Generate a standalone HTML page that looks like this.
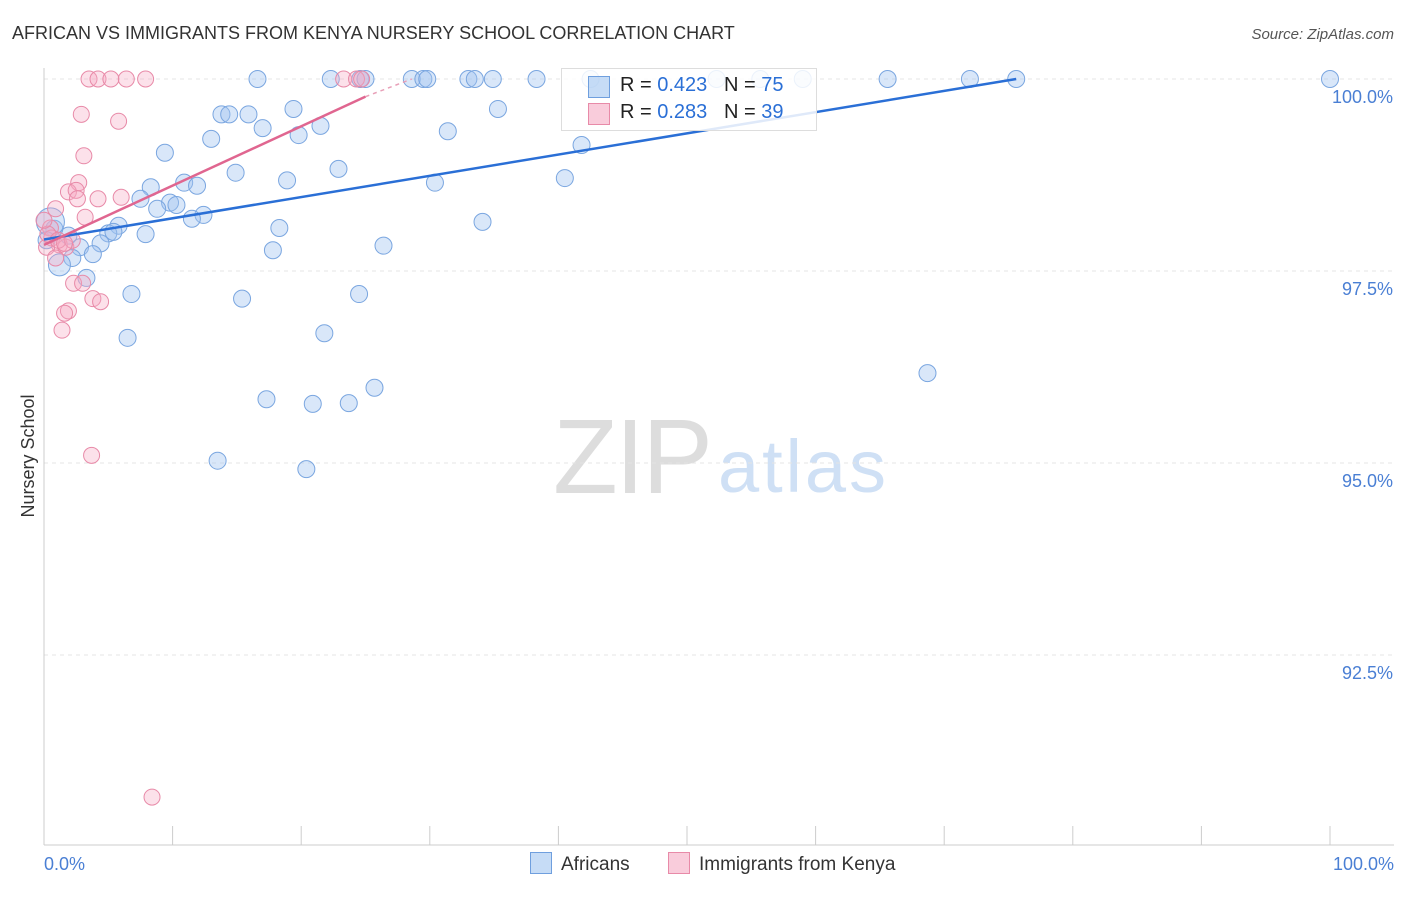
<!DOCTYPE html>
<html><head><meta charset="utf-8">
<style>
body{margin:0;background:#fff;font-family:"Liberation Sans",sans-serif;}
#c{position:relative;width:1406px;height:892px;}
svg text{font-family:"Liberation Sans",sans-serif;}
</style></head>
<body>
<div id="c">
<svg id="s" width="1406" height="892">
<text x="12" y="39" font-size="18" fill="#333">AFRICAN VS IMMIGRANTS FROM KENYA NURSERY SCHOOL CORRELATION CHART</text>
<text x="1394" y="39" font-size="15" fill="#555" text-anchor="end" font-style="italic">Source: ZipAtlas.com</text>
<text x="34" y="456" font-size="18" fill="#333" text-anchor="middle" transform="rotate(-90 34 456)">Nursery School</text>
<text x="553" y="493" font-size="106" fill="#ddd" font-family="Liberation Serif" textLength="160">ZIP</text>
<text x="718" y="492" font-size="74" fill="#cfe0f5" textLength="168">atlas</text>
<g id="grid"></g><g id="pts"></g><g id="lines"></g>
</svg>
<div style="position:absolute;left:561px;top:68px;width:254px;height:61px;border:1px solid #ddd;background:rgba(255,255,255,0.85);font-size:20px;color:#222;">
 <div style="position:absolute;left:26px;top:7px;width:20px;height:20px;background:rgba(160,196,240,0.6);border:1px solid #6f9fde;"></div>
 <div style="position:absolute;left:58px;top:5px;">R = <span style="color:#2a6fd6">0.423</span>&nbsp;&nbsp;&nbsp;N = <span style="color:#2a6fd6">75</span></div>
 <div style="position:absolute;left:26px;top:34px;width:20px;height:20px;background:rgba(245,170,195,0.6);border:1px solid #e88aa8;"></div>
 <div style="position:absolute;left:58px;top:32px;">R = <span style="color:#2a6fd6">0.283</span>&nbsp;&nbsp;&nbsp;N = <span style="color:#2a6fd6">39</span></div>
</div>
<div style="position:absolute;left:530px;top:852px;font-size:19px;color:#333;white-space:nowrap;">
 <span style="display:inline-block;width:20px;height:20px;background:rgba(160,196,240,0.6);border:1px solid #6f9fde;vertical-align:-4px;margin-right:9px;"></span>Africans
</div>
<div style="position:absolute;left:668px;top:852px;font-size:19px;color:#333;white-space:nowrap;">
 <span style="display:inline-block;width:20px;height:20px;background:rgba(245,170,195,0.6);border:1px solid #e88aa8;vertical-align:-4px;margin-right:9px;"></span>Immigrants from Kenya
</div>
</div>
<script>
const yTicks=[100,97.5,95,92.5];
const yTickLabels=["100.0%","97.5%","95.0%","92.5%"];
const blueX=[16.6,22.3,24.6,25.0,28.6,29.5,29.8,33.0,33.5,34.9,38.3,42.5,52.3,55.7,59.0,65.6,72.0,75.6,100,19.4,35.3,13.8,14.4,15.9,17.0,21.5,31.4,13.0,19.8,41.8,9.4,22.9,14.9,18.9,30.4,40.5,8.3,10.9,11.9,7.5,9.8,10.3,8.8,12.4,11.5,34.1,18.3,5.8,5.0,5.4,7.9,1.9,0.8,4.4,2.8,26.4,17.8,3.8,2.2,1.2,3.3,6.8,15.4,24.5,6.5,21.8,68.7,25.7,17.3,20.9,23.7,13.5,20.4,0.5,0.2];
const blueY=[100,100,100,100,100,100,100,100,100,100,100,100,100,100,100,100,100,100,100,99.61,99.61,99.54,99.54,99.54,99.36,99.39,99.32,99.22,99.27,99.14,99.04,98.83,98.78,98.68,98.65,98.71,98.59,98.65,98.61,98.44,98.39,98.36,98.31,98.23,98.18,98.14,98.06,98.09,97.99,98.01,97.98,97.96,98.05,97.86,97.81,97.83,97.77,97.72,97.67,97.58,97.41,97.20,97.14,97.20,96.63,96.69,96.17,95.98,95.83,95.77,95.78,95.03,94.92,98.14,97.90];
const pinkX=[3.5,4.2,5.2,6.4,7.9,23.3,24.3,24.7,2.9,5.8,3.1,2.7,1.9,2.5,2.6,4.2,6.0,0.9,3.2,0.5,0.6,1.2,1.7,0.2,0.9,2.3,3.0,3.8,4.4,1.9,1.6,1.4,3.7,8.4,0.3,1.1,0,2.2,1.6];
const pinkY=[100,100,100,100,100,100,100,100,99.54,99.45,99.00,98.65,98.53,98.55,98.44,98.44,98.46,98.31,98.20,98.06,97.93,97.84,97.81,97.81,97.67,97.34,97.34,97.14,97.10,96.98,96.95,96.73,95.10,90.65,97.98,97.90,98.16,97.90,97.86];
const blueTrend=[[0,97.91],[75.6,100]];
const pinkTrend=[[0,97.84],[25.0,99.77]];
const pinkTrendDash=[[25.0,99.77],[28.6,100]];
const NS="http://www.w3.org/2000/svg";
const X=v=>44+v*12.86, Y=v=>79+(100-v)*76.8;
function mk(t,a,p){const e=document.createElementNS(NS,t);for(const k in a)e.setAttribute(k,a[k]);p.appendChild(e);return e;}
const g=document.getElementById('grid');
yTicks.forEach((t,i)=>{
 const l=mk('line',{x1:44,x2:1394,y1:Y(t),y2:Y(t),stroke:'#e4e4e4','stroke-dasharray':'4,4'},g);
 
 
 const tx=mk('text',{x:1393,y:Y(t)+24,'font-size':18,fill:'#4a7fd4','text-anchor':'end'},g);tx.textContent=yTickLabels[i];
 
 
});
const ax=mk('line',{x1:44,x2:1394,y1:845,y2:845,stroke:'#ccc'},g);


const ay=mk('line',{x1:44,x2:44,y1:68,y2:845,stroke:'#ccc'},g);


for(let i=0;i<=10;i++){const t=mk('line',{x1:X(i*10),x2:X(i*10),y1:826,y2:845,stroke:'#ccc'},g);
 
 }
[[0,"0.0%","start",44],[100,"100.0%","end",1394]].forEach(d=>{const t=mk('text',{x:d[3],y:870,'font-size':18,fill:'#4a7fd4','text-anchor':d[2]},g);t.textContent=d[1];
 
 });
const p=document.getElementById('pts');
blueX.forEach((x,i)=>{const r=(i===blueX.length-2)?14:(i===59?11:8.5);
 const c=mk('circle',{cx:X(x),cy:Y(blueY[i]),r:r,fill:'rgba(160,196,240,0.4)',stroke:'#7aa6e0','stroke-width':1},p);
 
 });
pinkX.forEach((x,i)=>{const c=mk('circle',{cx:X(x),cy:Y(pinkY[i]),r:8,fill:'rgba(245,170,195,0.35)',stroke:'#e88aa8','stroke-width':1},p);
 
 });
const L=document.getElementById('lines');
const bl=mk('line',{x1:X(blueTrend[0][0]),y1:Y(blueTrend[0][1]),x2:X(blueTrend[1][0]),y2:Y(blueTrend[1][1]),stroke:'#2a6fd6','stroke-width':2.5},L);


const pl=mk('line',{x1:X(pinkTrend[0][0]),y1:Y(pinkTrend[0][1]),x2:X(pinkTrend[1][0]),y2:Y(pinkTrend[1][1]),stroke:'#e06690','stroke-width':2.5},L);


const pd=mk('line',{x1:X(pinkTrendDash[0][0]),y1:Y(pinkTrendDash[0][1]),x2:X(pinkTrendDash[1][0]),y2:Y(pinkTrendDash[1][1]),stroke:'#e8a0b8','stroke-width':1.5,'stroke-dasharray':'4,4'},L);


</script>
</body></html>
